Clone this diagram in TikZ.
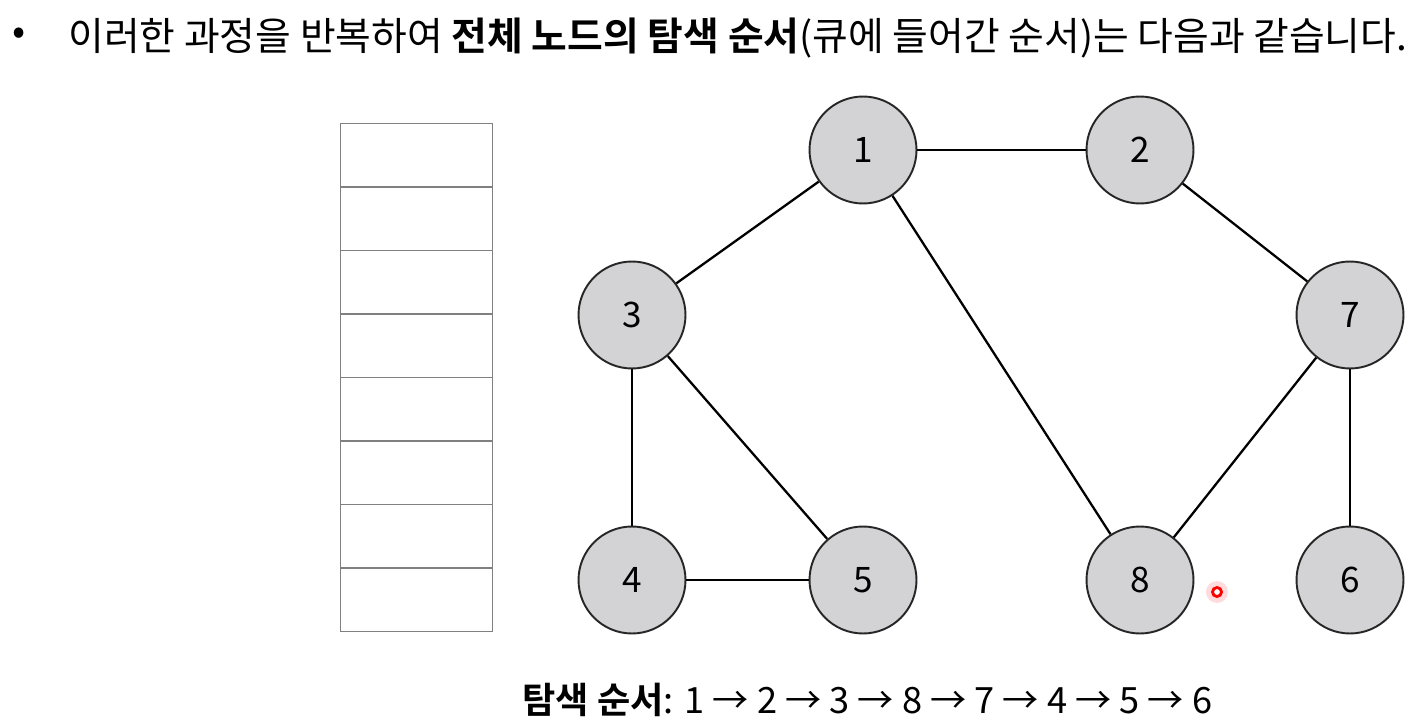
\documentclass[tikz,border=0pt]{standalone}
\usepackage{fontspec}
\setmainfont{Noto Sans CJK KR}[BoldFont={Noto Sans CJK KR Bold}]
\usepackage{tikz}
\usetikzlibrary{positioning}
\definecolor{nodegray}{RGB}{211,211,213}
\definecolor{cellgray}{RGB}{128,128,128}

\begin{document}
\begin{tikzpicture}
  [
    x=0.02cm, y=-0.02cm,
    Gray/.style={circle, draw=black!85, fill=nodegray, line width=1.1pt, minimum size=2.14cm, inner sep=0pt, font=\fontsize{20}{20}\selectfont},
    Cell/.style={rectangle, draw=cellgray, line width=0.8pt, minimum width=3.04cm, minimum height=1.27cm, inner sep=0pt, anchor=north west},
    Edge/.style={line width=1.3pt, black}
  ]
  \useasboundingbox (0,0) rectangle (1417,723);

  % Title
  \node[anchor=center, font=\fontsize{22}{22}\selectfont] (bullet) at (19,36) {•};
  \node[anchor=west, inner sep=0pt, font=\fontsize{22.1}{22}\selectfont] (title) at (68,38)
    {이러한 과정을 반복하여 \textbf{전체 노드의 탐색 순서}(큐에 들어간 순서)는 다음과 같습니다.};

  % Queue
  \foreach \i in {0,...,7}
    \node[Cell] (q\i) at (340, 123+63.5*\i) {};

  % Nodes
  \node[Gray] (v1) at (863,150) {1};
  \node[Gray] (v2) at (1140,150) {2};
  \node[Gray] (v3) at (632,315) {3};
  \node[Gray] (v7) at (1350,315) {7};
  \node[Gray] (v4) at (632,580) {4};
  \node[Gray] (v5) at (863,580) {5};
  \node[Gray] (v8) at (1140,580) {8};
  \node[Gray] (v6) at (1350,580) {6};

  % Edges
  \draw[Edge] (v1) -- (v2);
  \draw[Edge] (v1) -- (v3);
  \draw[Edge] (v1) -- (v8);
  \draw[Edge] (v2) -- (v7);
  \draw[Edge] (v3) -- (v4);
  \draw[Edge] (v3) -- (v5);
  \draw[Edge] (v4) -- (v5);
  \draw[Edge] (v7) -- (v8);
  \draw[Edge] (v7) -- (v6);

  % Pointer
  \fill[red!20, opacity=0.7] (1217,592) circle (11);
  \draw[red, line width=1.6pt, fill=white] (1217,592) circle (4.5);

  % Order
  \node[anchor=west, inner sep=0pt, font=\fontsize{20.6}{21}\selectfont] (order) at (522,700)
    {\textbf{탐색 순서}: 1 → 2 → 3 → 8 → 7 → 4 → 5 → 6};
\end{tikzpicture}
\end{document}
